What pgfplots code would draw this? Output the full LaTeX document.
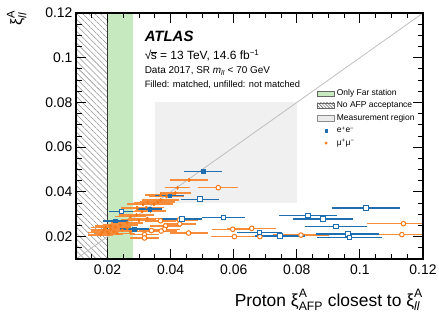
\documentclass[border=0pt]{standalone}
\usepackage{amsmath}
\usepackage{fontspec}
\setmainfont{Liberation Sans}
\usepackage{pgfplots}
\usepackage{pgfplotstable}
\pgfplotsset{compat=1.18}
\usetikzlibrary{patterns,patterns.meta}
\definecolor{cblue}{RGB}{31,111,176}
\definecolor{corange}{RGB}{245,121,25}
\definecolor{cgreen}{RGB}{199,233,192}

\pgfplotstableread{
x y ex ey
0.0503 0.0492 0.0061 0.0010
0.0397 0.0383 0.0045 0.0008
0.0334 0.0324 0.0040 0.0008
0.0225 0.0271 0.0040 0.0008
0.0285 0.0234 0.0045 0.0008
}\bluefilled

\pgfplotstableread{
x y ex
0.0493 0.0367 0.0059
0.0244 0.0313 0.0038
0.0436 0.0278 0.0062
0.0568 0.0285 0.0067
0.0682 0.0218 0.0072
0.1020 0.0327 0.0107
0.0835 0.0294 0.0092
0.0883 0.0279 0.0095
0.0924 0.0245 0.0098
0.0746 0.0203 0.0080
0.0962 0.0212 0.0100
0.0967 0.0197 0.0102
}\blueopen

\pgfplotstableread{
x y ex
0.0551 0.0419 0.0063
0.0657 0.0237 0.0077
0.0683 0.0200 0.0080
0.0813 0.0207 0.0090
0.1138 0.0258 0.0115
0.1133 0.0209 0.0115
0.0597 0.0233 0.0065
0.0602 0.0200 0.0075
0.0368 0.0271 0.0050
0.0428 0.0275 0.0058
0.0429 0.0257 0.0050
0.0384 0.0248 0.0050
0.0381 0.0233 0.0050
0.0339 0.0227 0.0040
0.0370 0.0225 0.0050
0.0457 0.0216 0.0060
0.0317 0.0209 0.0045
0.0317 0.0194 0.0045
}\orangeopen

\pgfplotstableread{
x y ex ey
0.0459 0.0453 0.0061 0.0010
0.0422 0.0419 0.0040 0.0009
0.0415 0.0395 0.0050 0.0009
0.0387 0.0379 0.0055 0.0008
0.0368 0.0386 0.0050 0.0008
0.0368 0.0364 0.0060 0.0008
0.0359 0.0354 0.0055 0.0008
0.0347 0.0346 0.0060 0.0008
0.0328 0.0352 0.0045 0.0008
0.0313 0.0345 0.0050 0.0008
0.0323 0.0331 0.0055 0.0008
0.0294 0.0327 0.0050 0.0008
0.0310 0.0312 0.0060 0.0008
0.0336 0.0315 0.0050 0.0008
0.0292 0.0297 0.0055 0.0008
0.0273 0.0289 0.0050 0.0008
0.0326 0.0282 0.0060 0.0008
0.0299 0.0274 0.0055 0.0008
0.0262 0.0262 0.0050 0.0008
0.0241 0.0252 0.0055 0.0008
0.0225 0.0242 0.0050 0.0008
0.0209 0.0233 0.0045 0.0008
0.0199 0.0222 0.0050 0.0008
0.0188 0.0230 0.0040 0.0008
0.0183 0.0218 0.0045 0.0008
0.0220 0.0222 0.0050 0.0008
0.0231 0.0215 0.0055 0.0008
0.0204 0.0212 0.0045 0.0008
0.0178 0.0207 0.0040 0.0008
0.0247 0.0230 0.0050 0.0008
0.0262 0.0237 0.0055 0.0008
0.0209 0.0248 0.0050 0.0008
0.0194 0.0240 0.0045 0.0008
0.0273 0.0222 0.0050 0.0008
}\orangefilled

\begin{document}
\begin{tikzpicture}
\path[use as bounding box] (-76bp,-64bp) rectangle (363bp,259bp);
\begin{axis}[
  name=ax, at={(0,0)}, anchor=south west,
  scale only axis, width=347bp, height=246bp,
  xmin=0.01, xmax=0.12, ymin=0.01, ymax=0.12,
  xtick={0.02,0.04,0.06,0.08,0.1,0.12},
  xticklabels={0.02,0.04,0.06,0.08,0.1,0.12},
  ytick={0.02,0.04,0.06,0.08,0.1,0.12},
  yticklabels={0.02,0.04,0.06,0.08,0.1,0.12},
  minor xtick={0.015,0.025,0.03,0.035,0.045,0.05,0.055,0.065,0.07,0.075,0.085,0.09,0.095,0.105,0.11,0.115},
  minor ytick={0.015,0.025,0.03,0.035,0.045,0.05,0.055,0.065,0.07,0.075,0.085,0.09,0.095,0.105,0.11,0.115},
  xtick pos=both, ytick pos=both,
  tick align=inside,
  major tick length=10bp, minor tick length=5.5bp,
  axis line style={line width=1.1bp},
  every tick/.style={line width=0.9bp, black},
  tick label style={font=\fontsize{14}{14}\selectfont},
  xticklabel style={yshift=-2bp},
  axis on top,
  clip=true,
  legend style={at={(rel axis cs:0.695,0.697)}, anchor=north west, draw=none, fill=none,
     font=\fontsize{8.5}{9}\selectfont, row sep=0.8bp, inner sep=0pt,
     /tikz/every even column/.append style={column sep=1bp}},
  legend cell align=left,
]
% No AFP acceptance
\addplot[forget plot, draw=none, pattern={Lines[angle=-45, distance=4.2bp, line width=0.55bp]}, pattern color=black!42]
  coordinates {(0.01,0.01) (0.02,0.01) (0.02,0.12) (0.01,0.12)} -- cycle;
% Only far station
\addplot[forget plot, draw=none, fill=cgreen]
  coordinates {(0.02,0.01) (0.028,0.01) (0.028,0.12) (0.02,0.12)} -- cycle;
\addplot[forget plot, black!80, line width=0.8bp] coordinates {(0.02,0.01) (0.02,0.12)};
% Measurement region
\addplot[forget plot, draw=none, fill=black!6]
  coordinates {(0.035,0.035) (0.08,0.035) (0.08,0.08) (0.035,0.08)} -- cycle;
% diagonal
\addplot[forget plot, black!25, line width=0.8bp] coordinates {(0.01,0.01) (0.12,0.12)};

% orange filled
\addplot[forget plot, only marks, mark=*, mark size=1.4bp, corange,
  error bars/.cd, x dir=both, x explicit, y dir=both, y explicit, error mark=none,
  error bar style={line width=1.5bp, corange!85!white}]
  table[x=x, y=y, x error=ex, y error=ey] {\orangefilled};
% orange open
\addplot[forget plot, only marks, mark=*, mark size=2.3bp, mark options={fill=white, draw=corange, line width=1bp},
  error bars/.cd, x dir=both, x explicit, error mark=none,
  error bar style={line width=1.5bp, corange!85!white}]
  table[x=x, y=y, x error=ex] {\orangeopen};
% blue open
\addplot[forget plot, only marks, mark=square*, mark size=2.3bp, mark options={fill=white, draw=cblue, line width=1bp},
  error bars/.cd, x dir=both, x explicit, error mark=none,
  error bar style={line width=1.5bp, cblue}]
  table[x=x, y=y, x error=ex] {\blueopen};
% blue filled
\addplot[forget plot, only marks, mark=square*, mark size=1.8bp, cblue,
  error bars/.cd, x dir=both, x explicit, y dir=both, y explicit, error mark=none,
  error bar style={line width=1.5bp, cblue}]
  table[x=x, y=y, x error=ex, y error=ey] {\bluefilled};

\addlegendimage{area legend, fill=cgreen, draw=black!60}
\addlegendentry{Only Far station}
\addlegendimage{area legend, pattern={Lines[angle=-45, distance=2.2bp, line width=0.5bp]}, pattern color=black!70, draw=black!60}
\addlegendentry{No AFP acceptance}
\addlegendimage{area legend, fill=black!8, draw=black!45}
\addlegendentry{Measurement region}
\addlegendimage{only marks, mark=square*, mark size=1.2bp, cblue}
\addlegendentry{e\textsuperscript{+}e\textsuperscript{−}}
\addlegendimage{only marks, mark=*, mark size=1.3bp, corange}
\addlegendentry{μ\textsuperscript{+}μ\textsuperscript{−}}
\end{axis}

% text block
\node[anchor=base west, inner sep=1pt, font=\fontsize{15}{15}\selectfont\bfseries\itshape] at (67.6bp,217bp) {ATLAS};
\node[anchor=base west, inner sep=1pt, font=\fontsize{12}{12}\selectfont] at (67.6bp,199bp) {√\kern-0.5pt$\overline{\text{s}}$ = 13 TeV, 14.6 fb\textsuperscript{−1}};
\node[anchor=base west, inner sep=1pt, font=\fontsize{10}{10}\selectfont] at (67.6bp,185bp) {Data 2017, SR \textit{m}\textsubscript{\textit{ll}} < 70 GeV};
\node[anchor=base west, inner sep=1pt, font=\fontsize{9.3}{9.3}\selectfont] at (67.6bp,171bp) {Filled: matched, unfilled: not matched};

% axis labels
\node[anchor=base east, inner sep=0pt, font=\fontsize{17.5}{17.5}\selectfont] at (347bp,-47bp)
  {Proton $\text{ξ}^{\text{A}}_{\text{AFP}}$ closest to $\text{ξ}^{\text{A}}_{\text{\itshape ll}}$};
\node[rotate=90, anchor=base east, inner sep=0pt, font=\fontsize{16}{16}\selectfont] at (-54bp,249bp)
  {$\text{ξ}^{\text{A}}_{\text{\itshape ll}}$};
\end{tikzpicture}
\end{document}
